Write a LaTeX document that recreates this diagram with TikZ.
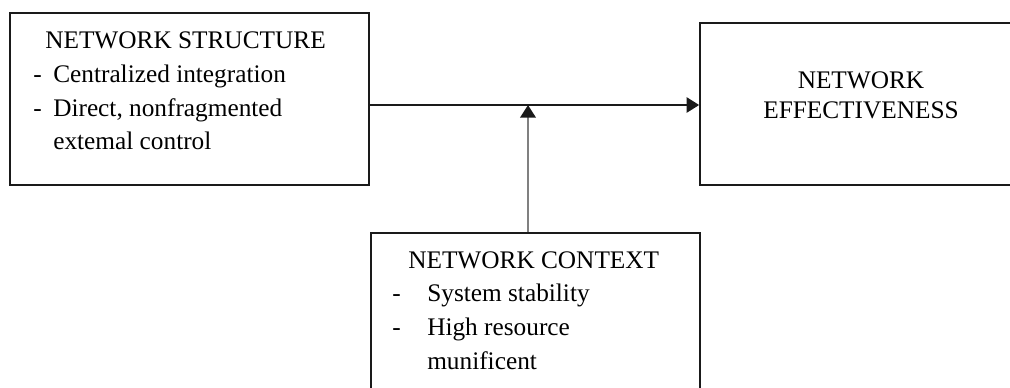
\documentclass[tikz,border=0pt]{standalone}
\usepackage{fontspec}
\setmainfont{Liberation Serif}
\usetikzlibrary{arrows.meta,positioning,fit,calc}
\usepackage{xcolor}
\definecolor{dark}{HTML}{1A1A1A}
\definecolor{stem}{HTML}{808080}
\tikzset{
  box/.style={draw=dark, line width=1.2pt, inner sep=0pt},
  txt/.style={font=\fontsize{18}{24}\selectfont, align=left, inner sep=0pt, anchor=north west},
  arrow/.style={-{Triangle[length=9pt,width=11pt,color=dark]}, line width=1.2pt, draw=dark}
}

\begin{document}
\begin{tikzpicture}[x=0.25mm, y=-0.25mm]
  \clip (0,0) rectangle (1010,387);
  % boxes
  \node[box, fit={(10,13) (369,185)}] (structure) {};
  \node[box, fit={(700,23) (1020,185)}] (effect) {};
  \node[box, fit={(371,233) (700,400)}] (context) {};
  % texts
  \node[txt] (structuretxt) at (33,31.5) {\hspace*{3mm}NETWORK STRUCTURE\\
    \makebox[5mm][l]{-}Centralized integration\\
    \makebox[5mm][l]{-}Direct, nonfragmented\\
    \hspace*{5mm}extemal control};
  \node[txt, align=center, anchor=north, font=\fontsize{18}{21}\selectfont] (effecttxt) at (861,71.5) {NETWORK\\EFFECTIVENESS};
  \node[txt] (contexttxt) at (392,251) {\hspace*{4mm}NETWORK CONTEXT\\
    \makebox[8.75mm][l]{-}System stability\\
    \makebox[8.75mm][l]{-}High resource\\
    \hspace*{8.75mm}munificent};
  % connectors
  \coordinate (joint) at (528,105);
  \draw[arrow] (structure.east |- joint) -- (effect.west |- joint);
  \draw[arrow, draw=stem, line width=1.6pt] (context.north -| joint) -- (joint);
\end{tikzpicture}
\end{document}
